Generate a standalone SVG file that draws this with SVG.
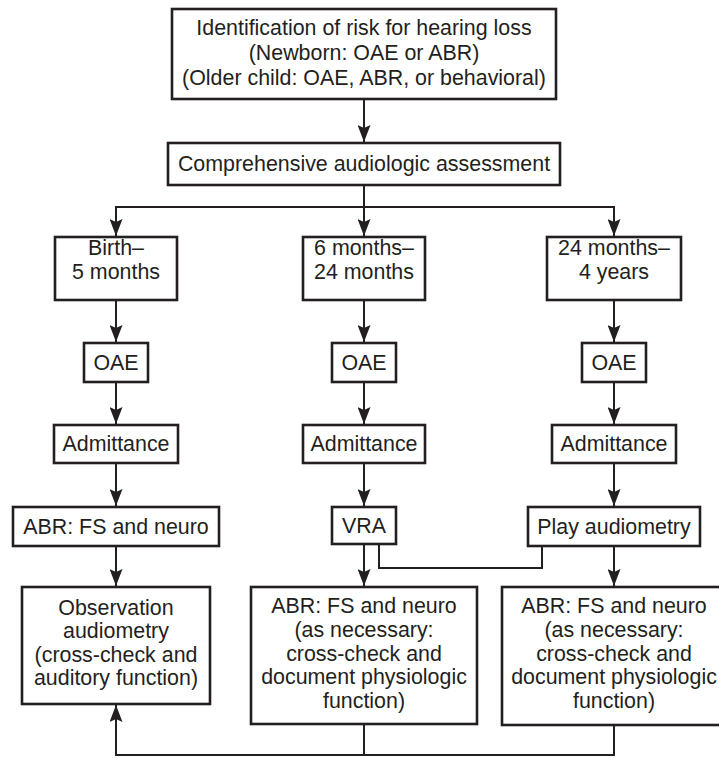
<svg xmlns="http://www.w3.org/2000/svg" width="719" height="758" viewBox="0 0 719 758">
<style>
.box{fill:#fff;stroke:#231f20;stroke-width:2.6}
.t{font-family:"Liberation Sans",Arial,sans-serif;font-size:21.4px;fill:#231f20;text-anchor:middle}
.c{fill:none;stroke:#231f20;stroke-width:2}
</style>
<defs>
<marker id="ah" viewBox="0 0 17 13" refX="17" refY="6.5" markerWidth="17" markerHeight="13" markerUnits="userSpaceOnUse" orient="auto">
<path d="M0,0 L17,6.5 L0,13 L3,6.5 z" fill="#231f20"/>
</marker>
</defs>
<rect width="719" height="758" fill="#fff"/>
<g id="connectors">
<line class="c" x1="364" y1="99" x2="364" y2="142" marker-end="url(#ah)"/>
<line class="c" x1="364" y1="185" x2="364" y2="236" marker-end="url(#ah)"/>
<polyline class="c" points="116,236 116,207 614,207 614,236"/>
<line class="c" x1="116" y1="207" x2="116" y2="236" marker-end="url(#ah)"/>
<line class="c" x1="614" y1="207" x2="614" y2="236" marker-end="url(#ah)"/>
<line class="c" x1="116" y1="300" x2="116" y2="342" marker-end="url(#ah)"/>
<line class="c" x1="364" y1="300" x2="364" y2="342" marker-end="url(#ah)"/>
<line class="c" x1="614" y1="300" x2="614" y2="342" marker-end="url(#ah)"/>
<line class="c" x1="116" y1="382" x2="116" y2="424" marker-end="url(#ah)"/>
<line class="c" x1="364" y1="382" x2="364" y2="424" marker-end="url(#ah)"/>
<line class="c" x1="614" y1="382" x2="614" y2="424" marker-end="url(#ah)"/>
<line class="c" x1="116" y1="463" x2="116" y2="506" marker-end="url(#ah)"/>
<line class="c" x1="364" y1="463" x2="364" y2="506" marker-end="url(#ah)"/>
<line class="c" x1="614" y1="463" x2="614" y2="506" marker-end="url(#ah)"/>
<line class="c" x1="116" y1="546" x2="116" y2="586" marker-end="url(#ah)"/>
<line class="c" x1="364" y1="544" x2="364" y2="586" marker-end="url(#ah)"/>
<line class="c" x1="614" y1="546" x2="614" y2="586" marker-end="url(#ah)"/>
<polyline class="c" points="379,544 379,568 542,568 542,546"/>
<polyline class="c" points="364,724 364,755"/>
<polyline class="c" points="614,725 614,755 116,755 116,705" marker-end="url(#ah)"/>
</g>
<g id="n-risk"><rect class="box" x="172" y="9" width="384" height="90"/>
<text class="t" x="364" y="35">Identification of risk for hearing loss</text>
<text class="t" x="364" y="60">(Newborn: OAE or ABR)</text>
<text class="t" x="364" y="85">(Older child: OAE, ABR, or behavioral)</text></g>
<g id="n-comp"><rect class="box" x="168" y="143" width="392" height="42"/>
<text class="t" x="364" y="171">Comprehensive audiologic assessment</text></g>
<g id="n-birth"><rect class="box" x="55" y="237" width="122" height="63"/>
<text class="t" x="116" y="255">Birth–</text><text class="t" x="116" y="279">5 months</text></g>
<g id="n-6m"><rect class="box" x="303" y="237" width="122" height="63"/>
<text class="t" x="364" y="255">6 months–</text><text class="t" x="364" y="279">24 months</text></g>
<g id="n-24m"><rect class="box" x="547" y="237" width="134" height="63"/>
<text class="t" x="614" y="255">24 months–</text><text class="t" x="614" y="279">4 years</text></g>
<g id="n-oae1"><rect class="box" x="84" y="343" width="64" height="39"/><text class="t" x="116" y="370">OAE</text></g>
<g id="n-oae2"><rect class="box" x="332" y="343" width="64" height="39"/><text class="t" x="364" y="370">OAE</text></g>
<g id="n-oae3"><rect class="box" x="582" y="343" width="64" height="39"/><text class="t" x="614" y="370">OAE</text></g>
<g id="n-adm1"><rect class="box" x="54" y="425" width="124" height="38"/><text class="t" x="116" y="451">Admittance</text></g>
<g id="n-adm2"><rect class="box" x="303" y="425" width="122" height="38"/><text class="t" x="364" y="451">Admittance</text></g>
<g id="n-adm3"><rect class="box" x="552" y="425" width="124" height="38"/><text class="t" x="614" y="451">Admittance</text></g>
<g id="n-abr1"><rect class="box" x="13" y="507" width="206" height="39"/><text class="t" x="116" y="534">ABR: FS and neuro</text></g>
<g id="n-vra"><rect class="box" x="332" y="507" width="64" height="37"/><text class="t" x="364" y="533">VRA</text></g>
<g id="n-play"><rect class="box" x="528" y="507" width="172" height="39"/><text class="t" x="614" y="534">Play audiometry</text></g>
<g id="n-obs"><rect class="box" x="22" y="587" width="188" height="117"/>
<text class="t" x="116" y="615">Observation</text>
<text class="t" x="116" y="638">audiometry</text>
<text class="t" x="116" y="662">(cross-check and</text>
<text class="t" x="116" y="685">auditory function)</text></g>
<g id="n-abr2"><rect class="box" x="251" y="587" width="226" height="137"/>
<text class="t" x="364" y="613">ABR: FS and neuro</text>
<text class="t" x="364" y="637">(as necessary:</text>
<text class="t" x="364" y="661">cross-check and</text>
<text class="t" x="364" y="684">document physiologic</text>
<text class="t" x="364" y="708">function)</text></g>
<g id="n-abr3"><rect class="box" x="502" y="587" width="226" height="138"/>
<text class="t" x="614" y="613">ABR: FS and neuro</text>
<text class="t" x="614" y="637">(as necessary:</text>
<text class="t" x="614" y="661">cross-check and</text>
<text class="t" x="614" y="684">document physiologic</text>
<text class="t" x="614" y="708">function)</text></g>
</svg>
